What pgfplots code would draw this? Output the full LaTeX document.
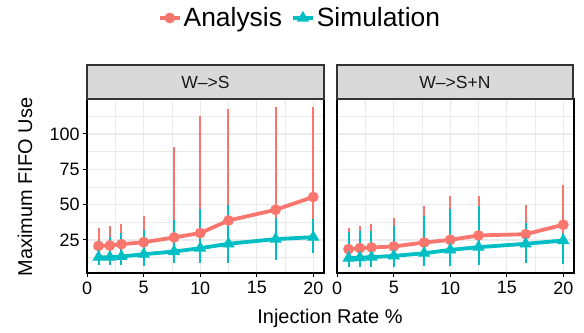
\documentclass[border=0pt]{standalone}
\usepackage{pgfplots}
\pgfplotsset{compat=1.18}
\usepackage{pgfplotstable}
\usepackage{fontspec}
\setmainfont{Liberation Sans}
\definecolor{ana}{HTML}{F8766D}
\definecolor{sim}{HTML}{00BFC4}
\definecolor{stripgray}{HTML}{D9D9D9}
\definecolor{bordergray}{HTML}{333333}
\definecolor{gridgray}{HTML}{EBEBEB}

\pgfplotstableread{
x y lo hi
1 20.7 12 33.3
2 21.0 12 34.5
3.03 21.9 12 36.4
5 23.3 12 41.6
7.69 26.7 12 90.6
10 29.8 13 112.7
12.5 38.7 14 117.4
16.67 46.3 15 119.3
20 55.4 18 119.3
}\leftana
\pgfplotstableread{
x y lo hi
1 12.7 7.2 25
2 12.7 7.2 27
3.03 13.2 7.2 29.8
5 14.8 6.7 32.1
7.69 16.7 8.4 39.2
10 19.1 8.4 46.8
12.5 22.2 8.9 49.9
16.67 25.5 10.8 40.4
20 26.9 16 39.7
}\leftsim
\pgfplotstableread{
x y lo hi
1 18.4 11 33.3
2 19.1 11 34.5
3.03 19.6 11 36.4
5 20.3 11 40.4
7.69 23.1 12 48.7
10 25.0 13 55.8
12.5 28.1 13.2 56.3
16.67 29.0 14 49.4
20 35.7 15 64.1
}\rightana
\pgfplotstableread{
x y lo hi
1 12.0 6.0 30.2
2 12.4 6.0 31
3.03 12.7 6.0 31
5 13.6 6.0 34.5
7.69 15.5 6.3 41.6
10 17.9 6.3 46.8
12.5 19.8 7.2 49.2
16.67 22.2 8.4 36.8
20 24.5 7.9 30
}\rightsim

\pgfplotsset{
  facet/.style={
    scale only axis, width=237bp, height=174bp,
    xmin=-0.02, xmax=20.95, ymin=1.5, ymax=124.8,
    xtick={0,5,10,15,20}, xticklabels={0,5,10,15,20},
    minor xtick={2.5,7.5,12.5,17.5},
    ytick={25,50,75,100},
    minor ytick={12.5,37.5,62.5,87.5,112.5},
    grid=both,
    major grid style={draw=gridgray, line width=1.4bp},
    minor grid style={draw=gridgray, line width=0.7bp},
    tick align=outside, major tick length=4bp, minor tick length=0pt,
    tick style={black, line width=1bp},
    tick pos=left,
    axis line style={draw=black, line width=1.4bp},
    /pgf/number format/assume math mode=true,
    tick label style={font=\fontsize{18}{20}\selectfont, text=black},
    xticklabel style={yshift=-1bp},
  },
  ebar/.style={only marks, mark=none, forget plot,
    error bars/.cd, y dir=both, y explicit, error mark=none,
    error bar style={line width=2bp, #1}},
  anaplot/.style={ana, line width=3.8bp, mark=*, mark size=5.3bp,
    mark options={solid, fill=ana, draw=ana, line width=0.1bp}},
  simplot/.style={sim, line width=3.8bp, mark=triangle*, mark size=6.9bp,
    mark options={solid, fill=sim, draw=sim, line width=0.1bp}},
}

\begin{document}
\begin{tikzpicture}
\useasboundingbox (0bp,0bp) rectangle (584bp,333bp);

\begin{axis}[facet, at={(87bp,60bp)}, anchor=south west,
  yticklabels={25,50,75,100},
  legend style={at={(0.8987,1.4655)}, anchor=center, draw=none, fill=none,
    legend columns=2, font=\fontsize{26.5}{30}\selectfont,
    /tikz/every even column/.append style={column sep=7bp},
    nodes={inner sep=2bp}},
  legend image code/.code={\draw[mark repeat=2,mark phase=2,#1] plot coordinates {(0bp,0bp) (10bp,0bp) (20bp,0bp)};},
  ]
\addplot[ebar=ana] table[x=x, y=y, y error plus expr=\thisrow{hi}-\thisrow{y}, y error minus expr=\thisrow{y}-\thisrow{lo}] {\leftana};
\addplot[ebar=sim] table[x=x, y=y, y error plus expr=\thisrow{hi}-\thisrow{y}, y error minus expr=\thisrow{y}-\thisrow{lo}] {\leftsim};
\addplot[anaplot] table[x=x, y=y] {\leftana};
\addlegendentry{Analysis}
\addplot[simplot] table[x=x, y=y] {\leftsim};
\addlegendentry{Simulation}
\end{axis}

\begin{axis}[facet, at={(337bp,60bp)}, anchor=south west, yticklabels={}, ytick style={draw=none}]
\addplot[ebar=ana] table[x=x, y=y, y error plus expr=\thisrow{hi}-\thisrow{y}, y error minus expr=\thisrow{y}-\thisrow{lo}] {\rightana};
\addplot[ebar=sim] table[x=x, y=y, y error plus expr=\thisrow{hi}-\thisrow{y}, y error minus expr=\thisrow{y}-\thisrow{lo}] {\rightsim};
\addplot[anaplot] table[x=x, y=y] {\rightana};
\addplot[simplot] table[x=x, y=y] {\rightsim};
\end{axis}

\draw[fill=stripgray, draw=bordergray, line width=1.2bp] (87bp,234bp) rectangle (324bp,268bp);
\draw[fill=stripgray, draw=bordergray, line width=1.2bp] (337bp,234bp) rectangle (573bp,268bp);
\node[font=\fontsize{17.6}{20}\selectfont, text=black!90] at (205.5bp,251bp) {W\textendash{}>S};
\node[font=\fontsize{17.6}{20}\selectfont, text=black!90] at (455bp,251bp) {W\textendash{}>S+N};

\node[font=\fontsize{20}{24}\selectfont] at (330bp,15bp) {Injection Rate \%};
\node[font=\fontsize{20}{24}\selectfont, rotate=90] at (25bp,146bp) {Maximum FIFO Use};
\end{tikzpicture}
\end{document}
